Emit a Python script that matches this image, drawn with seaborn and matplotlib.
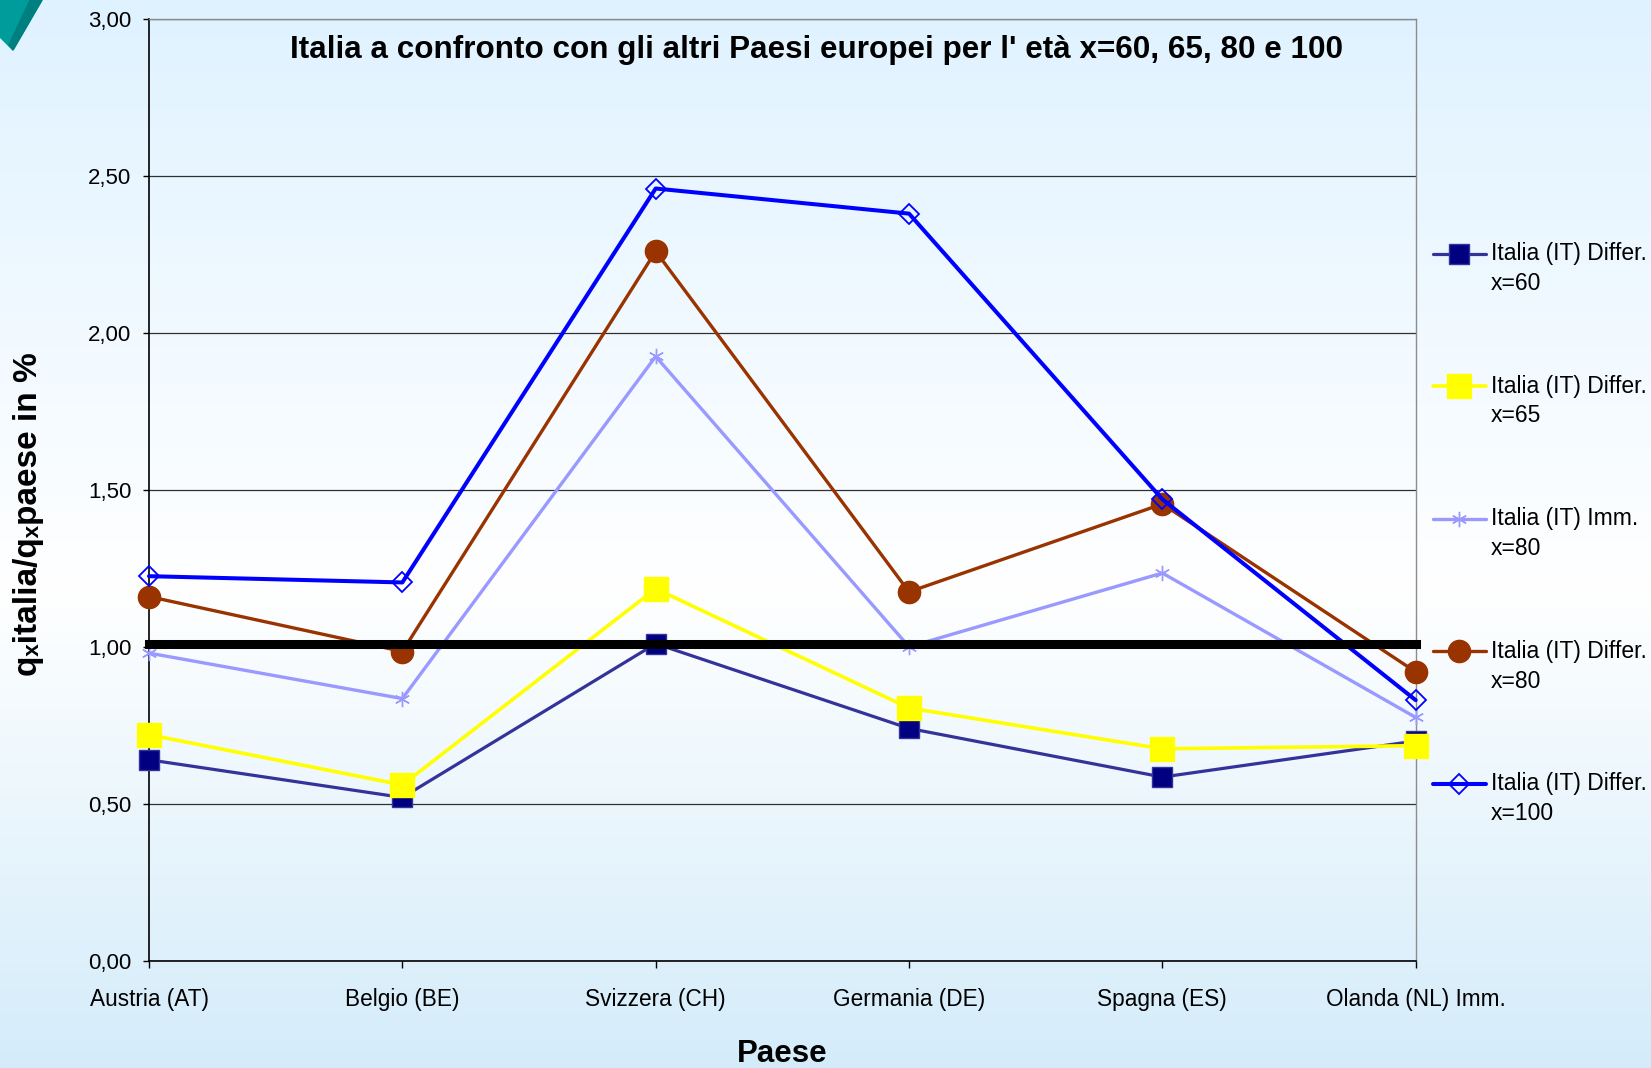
import numpy as np
import matplotlib
matplotlib.use("Agg")
import matplotlib.pyplot as plt
import seaborn as sns
from matplotlib.patches import Polygon
from matplotlib.legend_handler import HandlerLine2D

# ---------------- data ----------------
countries = ["Austria (AT)", "Belgio (BE)", "Svizzera (CH)", "Germania (DE)",
             "Spagna (ES)", "Olanda (NL) Imm."]
diff_x60 = [0.64, 0.52, 1.01, 0.74, 0.585, 0.70]
diff_x65 = [0.72, 0.56, 1.185, 0.805, 0.675, 0.685]
imm_x80 = [0.98, 0.835, 1.925, 1.00, 1.235, 0.775]
diff_x80 = [1.16, 0.985, 2.26, 1.175, 1.455, 0.92]
diff_x100 = [1.225, 1.205, 2.46, 2.38, 1.47, 0.83]
reference = [1.01, 1.01, 1.01, 1.01, 1.01, 1.01]
series_labels = ["Italia (IT) Differ.\nx=60", "Italia (IT) Differ.\nx=65",
                 "Italia (IT) Imm.\nx=80", "Italia (IT) Differ.\nx=80",
                 "Italia (IT) Differ.\nx=100"]
y_ticks = [0.0, 0.5, 1.0, 1.5, 2.0, 2.5, 3.0]
y_tick_labels = ["0,00", "0,50", "1,00", "1,50", "2,00", "2,50", "3,00"]
title = "Italia a confronto con gli altri Paesi europei per l' età x=60, 65, 80 e 100"
ylabel = "qₓitalia/qₓpaese in %"
xlabel = "Paese"

# ---------------- style ----------------
sns.set_style("ticks")
plt.rcParams["font.family"] = ["Liberation Sans", "DejaVu Sans"]
plt.rcParams["text.color"] = "black"
plt.rcParams["xtick.color"] = "black"
plt.rcParams["ytick.color"] = "black"
plt.rcParams["xtick.labelcolor"] = "black"
plt.rcParams["ytick.labelcolor"] = "black"

W, H = 1651, 1068
fig = plt.figure(figsize=(W / 100, H / 100), dpi=100)

# background gradient
bg = fig.add_axes([0, 0, 1, 1], zorder=-10)
stops_y = [0.0, 0.55, 1.0]
top = np.array([0.875, 0.95, 1.0])
mid = np.array([1.0, 1.0, 1.0])
bot = np.array([0.83, 0.925, 0.98])
t = np.linspace(0, 1, 400)
cols = np.empty((400, 3))
for i in range(3):
    cols[:, i] = np.interp(t, stops_y, [top[i], mid[i], bot[i]])
bg.imshow(cols[:, None, :], aspect="auto", extent=[0, 1, 0, 1], origin="upper")
bg.set_xlim(0, 1); bg.set_ylim(0, 1)
bg.axis("off")

# decorative teal corner
def px(xp, yp):
    return (xp / W, 1 - yp / H)
bg.add_patch(Polygon([px(0, 0), px(42, 0), px(13, 50), px(0, 37)],
                     closed=True, color="#009C9C", transform=fig.transFigure, zorder=5))
bg.add_patch(Polygon([px(30, 0), px(42, 0), px(13, 50), px(9, 45)],
                     closed=True, color="#007F80", transform=fig.transFigure, zorder=6))

L, R, T, B = 149, 1415.7, 19, 960.7
ax = fig.add_axes([L / W, 1 - B / H, (R - L) / W, (B - T) / H])
ax.set_facecolor("none")

styles = [
    dict(color="#333399", marker="s", markersize=15, markerfacecolor="#000080",
         markeredgecolor="#333399", markeredgewidth=1, linewidth=2.3),
    dict(color="#FFFF00", marker="s", markersize=17, markerfacecolor="#FFFF00",
         markeredgecolor="#FFFF00", markeredgewidth=1, linewidth=2.6),
    dict(color="#9999FF", marker=(6, 2, 0), markersize=11, markerfacecolor="#9999FF",
         markeredgecolor="#9999FF", markeredgewidth=1.0, linewidth=2.4),
    dict(color="#993300", marker="o", markersize=16, markerfacecolor="#993300",
         markeredgecolor="#993300", markeredgewidth=1, linewidth=2.4),
    dict(color="#0000FF", marker="D", markersize=10.5, markerfacecolor="none",
         markeredgecolor="#0000FF", markeredgewidth=1.3, linewidth=2.9),
]
all_series = [diff_x60, diff_x65, imm_x80, diff_x80, diff_x100]
for i, (vals, st, lab) in enumerate(zip(all_series, styles, series_labels)):
    sns.lineplot(x=countries, y=vals, ax=ax, label=lab, zorder=3 + i, **st)

sns.lineplot(x=countries, y=reference, ax=ax, color="black", linewidth=6.5,
             zorder=10, legend=False)
ax.lines[-1].set_solid_capstyle("projecting")
for ln in ax.lines:
    ln.set_clip_on(False)

ax.set_xlim(0, len(countries) - 1)
ax.set_ylim(0, 3)
ax.set_yticks(y_ticks)
ax.set_yticklabels(y_tick_labels)
ax.yaxis.grid(True, color="#303030", linewidth=0.9)
ax.set_axisbelow(True)
for s in ["left", "bottom"]:
    ax.spines[s].set_color("black")
    ax.spines[s].set_linewidth(1.2)
ax.spines["right"].set_visible(True)
ax.spines["right"].set_color("#8c8c8c")
ax.spines["right"].set_linewidth(1.0)
ax.spines["top"].set_visible(True)
ax.spines["top"].set_color("#8c8c8c")
ax.spines["top"].set_linewidth(1.0)
ax.tick_params(axis="y", length=4.3, width=1, pad=8.5, labelsize=16, color="black")
ax.tick_params(axis="x", length=5, width=1, pad=14.5, labelsize=16.3, color="black")
ax.set_xlabel("")
ax.set_ylabel("")

fig.text((L + R) / 2 / W, 1 - 1054 / H, xlabel, ha="center", va="center",
         fontsize=22.5, fontweight="bold")
fig.text(29 / W, 1 - 514 / H, ylabel, ha="center", va="center", rotation=90,
         fontsize=24, fontweight="bold")
fig.text(816 / W, 1 - 50 / H, title, ha="center", va="center",
         fontsize=22.6, fontweight="bold")


LEG_FS = 16.5
LEG_LS = 1.38


class FirstLineHandler(HandlerLine2D):
    """Align the legend handle with the first line of a two-line label."""
    def __init__(self, dy, **kw):
        super().__init__(**kw)
        self.dy = dy

    def create_artists(self, legend, orig_handle, xdescent, ydescent, width,
                       height, fontsize, trans):
        arts = super().create_artists(legend, orig_handle, xdescent, ydescent,
                                      width, height, fontsize, trans)
        for a in arts:
            a.set_ydata(np.asarray(a.get_ydata(), dtype=float) + self.dy)
        return arts


handles, labels = ax.get_legend_handles_labels()
leg = ax.legend(handles, labels, loc="upper left",
                bbox_to_anchor=(1433 / W, 1 - 242 / H),
                bbox_transform=fig.transFigure, frameon=False, fontsize=LEG_FS,
                handlelength=2.3, handletextpad=0.22, labelspacing=3.48,
                borderpad=0, borderaxespad=0,
                handler_map={h: FirstLineHandler(dy=LEG_FS * LEG_LS / 2)
                             for h in handles})
for txt in leg.get_texts():
    txt.set_linespacing(LEG_LS)

fig.savefig("out.png", dpi=100)
